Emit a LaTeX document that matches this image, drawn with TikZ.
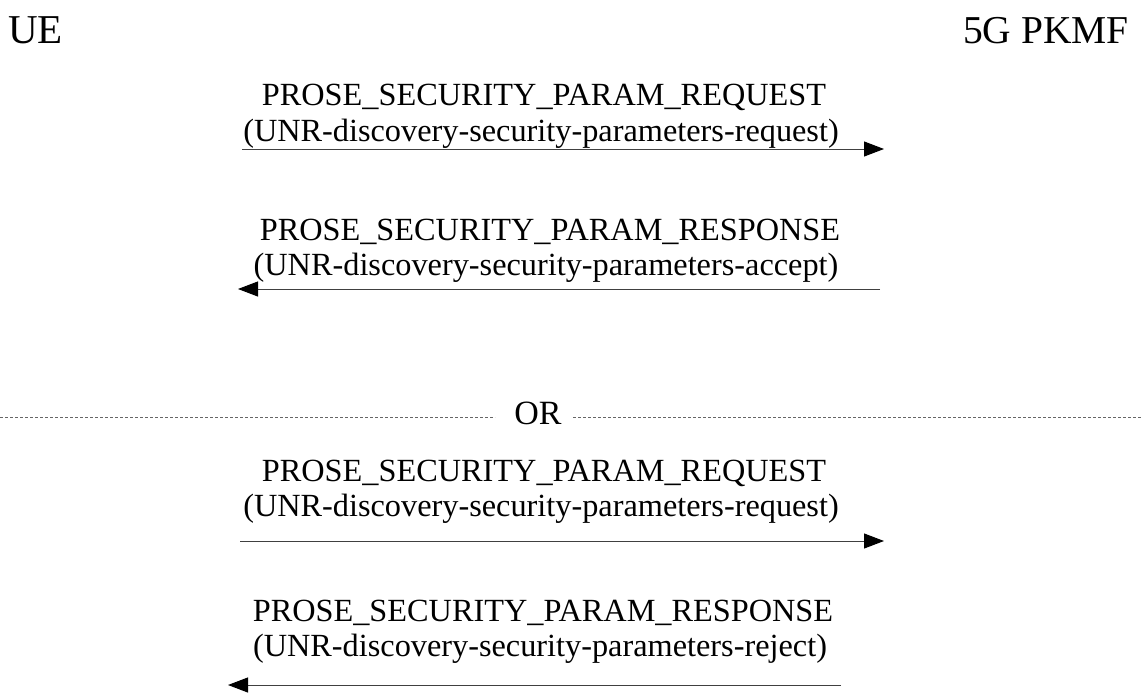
\documentclass[tikz,border=0pt]{standalone}
\usepackage{fontspec}
\setmainfont{Liberation Serif}
\usetikzlibrary{arrows.meta}
\begin{document}
\begin{tikzpicture}[x=1pt,y=-1pt,
  msg/.style={inner sep=0pt,anchor=base,font=\fontsize{32.3}{36}\selectfont},
  ent/.style={inner sep=0pt,anchor=base,font=\fontsize{41}{45}\selectfont},
  arr/.style={draw=black!75,line width=1pt,-{Triangle[length=20pt,width=15pt,fill=black,color=black]}},
  sep/.style={draw=black!60,line width=0.8pt,dash pattern=on 3pt off 2pt}]
\useasboundingbox (0,0) rectangle (1141,693);
\node[ent,anchor=base west] (ue) at (8,44) {UE};
\node[ent,anchor=base east,font=\fontsize{39.5}{44}\selectfont] (pkmf) at (1129,44) {5G PKMF};
% message 1
\node[msg] (m1a) at (544,106) {PROSE\_SECURITY\_PARAM\_REQUEST};
\node[msg] (m1b) at (541,141) {(UNR-discovery-security-parameters-request)};
\coordinate (a1s) at (242,149);
\coordinate (a1e) at (884,149);
\draw[arr] (a1s) -- (a1e);
% message 2
\node[msg] (m2a) at (550,240) {PROSE\_SECURITY\_PARAM\_RESPONSE};
\node[msg] (m2b) at (546,275) {(UNR-discovery-security-parameters-accept)};
\coordinate (a2s) at (880,289);
\coordinate (a2e) at (238,289);
\draw[arr] (a2s) -- (a2e);
% OR separator
\node[msg,anchor=center,font=\fontsize{34}{38}\selectfont] (or) at (538,413) {OR};
\coordinate (l0) at (0,417);
\coordinate (l0e) at (495,417);
\coordinate (l1s) at (573,417);
\coordinate (l1) at (1141,417);
\draw[sep] (l0) -- (l0e);
\draw[sep] (l1s) -- (l1);
% message 3
\node[msg] (m3a) at (544,481) {PROSE\_SECURITY\_PARAM\_REQUEST};
\node[msg] (m3b) at (541,516) {(UNR-discovery-security-parameters-request)};
\coordinate (a3s) at (240,541);
\coordinate (a3e) at (884,541);
\draw[arr] (a3s) -- (a3e);
% message 4
\node[msg] (m4a) at (543,621) {PROSE\_SECURITY\_PARAM\_RESPONSE};
\node[msg] (m4b) at (540,656) {(UNR-discovery-security-parameters-reject)};
\coordinate (a4s) at (841,685);
\coordinate (a4e) at (228,685);
\draw[arr] (a4s) -- (a4e);
\end{tikzpicture}
\end{document}
